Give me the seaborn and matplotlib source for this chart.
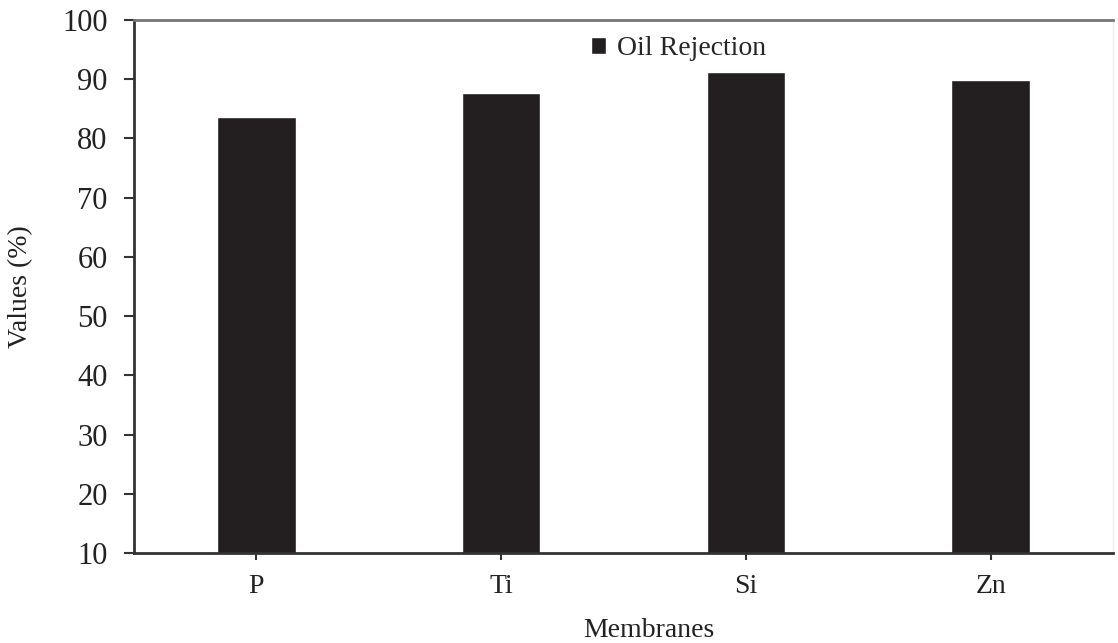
import pandas as pd
import matplotlib.pyplot as plt
import seaborn as sns

membranes = ['P', 'Ti', 'Si', 'Zn']
oil_rejection = [83.7, 87.7, 91.2, 89.8]
series_name = 'Oil Rejection'
y_ticks = [10, 20, 30, 40, 50, 60, 70, 80, 90, 100]

df = pd.DataFrame({'Membranes': membranes, 'Values': oil_rejection, 'series': series_name})

sns.set_style('white')
plt.rcParams['font.family'] = ['Liberation Serif', 'DejaVu Serif']

fig, ax = plt.subplots(figsize=(11.18, 6.43), dpi=100)
fig.subplots_adjust(left=134/1118, right=1113/1118, top=1-20/643, bottom=1-553/643)

sns.barplot(data=df, x='Membranes', y='Values', hue='series', palette=['#231f20'],
            width=0.32, ax=ax, saturation=1)

ax.set_ylim(10, 100)
ax.set_xlim(-0.5, 3.5)
ax.set_yticks(y_ticks)
ax.tick_params(axis='y', labelsize=22, colors='#333333', length=7, width=1.5,
               direction='out', left=True, pad=12)
ax.tick_params(axis='x', labelsize=20, colors='#333333', length=5, width=1.5,
               direction='out', bottom=True, pad=10)
for lbl in ax.get_xticklabels() + ax.get_yticklabels():
    lbl.set_color('#222222')

ax.set_ylabel('Values (%)', fontsize=20, color='#222222')
ax.set_xlabel('Membranes', fontsize=20, color='#222222')
ax.yaxis.set_label_coords(-0.103, 0.5)
ax.xaxis.set_label_coords(0.526, -0.122)

for side in ['left', 'bottom']:
    ax.spines[side].set_color('#333333')
    ax.spines[side].set_linewidth(2)
ax.spines['top'].set_color('#777777')
ax.spines['top'].set_linewidth(2)
ax.spines['right'].set_color('#eeeeee')
ax.spines['right'].set_linewidth(1)

ax.legend(loc='center', bbox_to_anchor=(0.556, 0.946), frameon=False, fontsize=20,
          handlelength=0.55, handleheight=0.55, handletextpad=0.4, borderpad=0)

fig.savefig('out.png', dpi=100)
